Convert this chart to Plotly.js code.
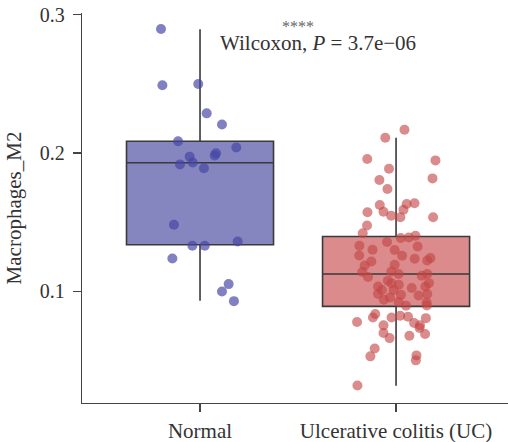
<!DOCTYPE html>
<html>
<head>
<meta charset="utf-8">
<script src="https://cdn.plot.ly/plotly-3.0.1.min.js"></script>
<style>html,body{margin:0;padding:0;background:#fff;}#chart{width:508px;height:442px;}</style>
</head>
<body>
<div id="chart"></div>
<script>
// categories
const categories = ["Normal", "Ulcerative colitis (UC)"];
const categoryPos = [0, 1];

// box statistics [Normal, UC]
const q1 = [0.1337, 0.0892];
const median = [0.1930, 0.1126];
const q3 = [0.2085, 0.1397];
const lowerFence = [0.0933, 0.0319];
const upperFence = [0.2894, 0.2110];

// Normal jittered points: offset from category centre, value
const normalJitter = [-0.199,-0.192,-0.009,0.034,0.112,-0.112,0.185,0.082,0.075,-0.053,-0.102,-0.037,0.020,-0.133,-0.039,0.024,0.192,-0.141,0.146,0.112,0.173];
const normalValues = [0.2896,0.2490,0.2499,0.2287,0.2206,0.2085,0.2040,0.1998,0.1983,0.1974,0.1918,0.1932,0.1890,0.1482,0.1330,0.1330,0.1361,0.1238,0.1053,0.1000,0.0930];

// UC jittered points: offset from category centre, value
const ucJitter = [0.043,-0.055,-0.147,0.201,-0.036,0.186,-0.085,-0.044,-0.083,0.054,0.094,-0.146,-0.064,0.038,-0.025,0.022,0.189,
  -0.148,-0.170,0.024,0.065,0.099,-0.046,0.110,-0.187,-0.120,-0.007,-0.188,0.031,0.095,0.175,0.159,-0.126,-0.160,-0.007,-0.172,-0.024,0.013,-0.143,0.131,0.159,-0.042,0.014,-0.092,-0.024,-0.013,0.159,0.168,0.149,0.080,-0.092,-0.072,0.025,0.115,0.156,-0.062,-0.031,0.013,
  -0.199,-0.106,-0.118,-0.023,0.021,0.061,-0.064,0.092,0.122,0.152,-0.064,-0.033,0.068,0.148,0.120,-0.109,-0.131,0.104,0.101,-0.197,0.051,0.157];
const ucValues = [0.2168,0.2110,0.1957,0.1947,0.1887,0.1817,0.1805,0.1740,0.1625,0.1632,0.1637,0.1572,0.1576,0.1590,0.1547,0.1536,0.1536,
  0.1477,0.1421,0.1386,0.1390,0.1402,0.1357,0.1325,0.1330,0.1301,0.1299,0.1260,0.1258,0.1236,0.1241,0.1224,0.1217,0.1188,0.1193,0.1140,0.1144,0.1126,0.1104,0.1113,0.1126,0.1077,0.1048,0.1036,0.1060,0.1010,0.0981,0.1060,0.1036,0.1025,0.0981,0.1010,0.0976,0.0971,0.0921,0.0940,0.0957,0.0923,
  0.0779,0.0837,0.0812,0.0812,0.0825,0.0817,0.0755,0.0772,0.0755,0.0807,0.0700,0.0663,0.0680,0.0692,0.0736,0.0588,0.0531,0.0538,0.0502,0.0321,0.0897,0.0899];

const yTicks = [0.1, 0.2, 0.3];
const yTickText = ["0.1", "0.2", "0.3"];

const boxFill = ["#8585bf", "#db8b8b"];
const pointColor = ["rgba(70,70,165,0.68)", "rgba(195,70,70,0.62)"];

const traces = [];
for (let i = 0; i < categories.length; i++) {
  traces.push({
    type: "box",
    x: [categoryPos[i]],
    q1: [q1[i]], median: [median[i]], q3: [q3[i]],
    lowerfence: [lowerFence[i]], upperfence: [upperFence[i]],
    width: 0.75,
    whiskerwidth: 0,
    fillcolor: boxFill[i],
    line: {color: "#3a3a3a", width: 1.6},
    boxpoints: false,
    hoverinfo: "skip",
    showlegend: false
  });
}
const jit = [normalJitter, ucJitter];
const vals = [normalValues, ucValues];
for (let i = 0; i < categories.length; i++) {
  traces.push({
    type: "scatter", mode: "markers",
    x: jit[i].map(d => categoryPos[i] + d),
    y: vals[i],
    marker: {size: 10, color: pointColor[i], line: {width: 0}},
    hoverinfo: "skip",
    showlegend: false
  });
}

const font = "Liberation Serif, Times New Roman, serif";
const layout = {
  width: 508, height: 442,
  margin: {l: 82, r: 0, t: 13, b: 39},
  paper_bgcolor: "#fff", plot_bgcolor: "#fff",
  font: {family: font, color: "#333", size: 21},
  xaxis: {
    range: [-0.602, 1.571],
    tickvals: categoryPos, ticktext: categories,
    showgrid: false, zeroline: false,
    showline: true, linecolor: "#444", linewidth: 1.3,
    ticks: "outside", ticklen: 8, tickwidth: 1.3, tickcolor: "#444",
    tickfont: {family: font, size: 21, color: "#333"}
  },
  yaxis: {
    range: [0.0194, 0.3012],
    tickvals: yTicks, ticktext: yTickText,
    showgrid: false, zeroline: false,
    showline: true, linecolor: "#444", linewidth: 1.3,
    ticks: "outside", ticklen: 8, tickwidth: 1.3, tickcolor: "#444",
    ticklabelstandoff: 4,
    tickfont: {family: font, size: 20, color: "#333"},
    title: {text: "Macrophages_M2", font: {family: font, size: 21, color: "#333"}, standoff: 12}
  },
  annotations: [
    {x: 0.5, y: 0.2912, xref: "x", yref: "y", text: "****", showarrow: false,
     font: {family: font, size: 16, color: "#666"}, xanchor: "center", yanchor: "middle"},
    {x: 0.6, y: 0.2795, xref: "x", yref: "y", text: "Wilcoxon, <i>P</i> = 3.7e\u221206", showarrow: false,
     font: {family: font, size: 21, color: "#333"}, xanchor: "center", yanchor: "middle"}
  ]
};
Plotly.newPlot("chart", traces, layout, {staticPlot: true, displayModeBar: false});
</script>
</body>
</html>
